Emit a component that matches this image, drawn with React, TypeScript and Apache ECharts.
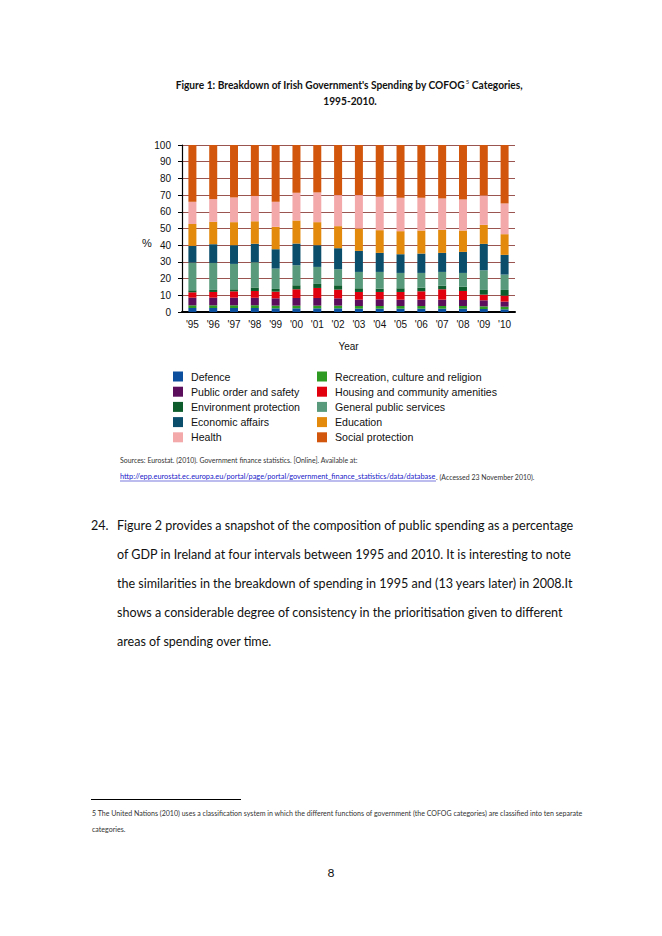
import React, { useEffect, useRef } from "react";
import * as echarts from "echarts";

// ---- Data (percent of total government spending) ----
const years = ["'95", "'96", "'97", "'98", "'99", "'00", "'01", "'02", "'03", "'04", "'05", "'06", "'07", "'08", "'09", "'10"];
const defence = [2.4, 2.4, 2.4, 2.4, 2.2, 2.2, 2.2, 2.2, 2.0, 2.0, 2.0, 2.0, 2.0, 2.0, 1.8, 1.6];
const recreation = [1.6, 1.6, 1.6, 1.6, 1.6, 1.6, 1.6, 1.6, 1.6, 1.6, 1.6, 1.6, 1.6, 1.6, 1.6, 1.6];
const publicOrder = [4.6, 4.6, 4.6, 4.6, 4.4, 4.6, 4.6, 4.4, 3.8, 4.0, 3.8, 3.8, 3.8, 3.6, 3.6, 3.0];
const housing = [3.2, 3.4, 3.8, 4.0, 4.0, 5.2, 6.0, 5.2, 4.6, 4.4, 4.6, 5.0, 6.2, 5.4, 3.4, 3.6];
const environment = [1.2, 1.2, 1.2, 2.0, 1.6, 2.4, 2.4, 2.6, 2.2, 2.0, 2.2, 2.2, 2.2, 2.6, 2.8, 3.4];
const generalPublic = [16.6, 16.2, 15.2, 15.2, 12.2, 12.0, 10.2, 9.6, 9.8, 10.0, 9.2, 8.8, 8.2, 8.2, 11.8, 9.2];
const economic = [10.0, 11.2, 11.2, 11.0, 11.6, 13.0, 13.0, 12.6, 12.6, 11.4, 11.2, 11.6, 11.4, 12.6, 15.8, 11.8];
const education = [13.1, 13.4, 13.8, 13.6, 13.4, 13.8, 13.8, 13.2, 13.4, 13.6, 13.8, 13.8, 13.8, 12.8, 11.4, 12.4];
const health = [13.3, 13.6, 14.8, 15.0, 15.0, 16.6, 17.8, 18.6, 20.0, 20.0, 20.0, 19.6, 18.8, 18.6, 17.6, 18.4];
const social = [34.0, 32.4, 31.4, 30.6, 34.0, 28.6, 28.4, 30.0, 30.0, 31.0, 31.6, 31.6, 32.0, 32.6, 30.2, 35.0];

const yTicks = { min: 0, max: 100, interval: 10 };

const seriesDefs = [
  { name: "Defence", data: defence, color: "#0b4f9e" },
  { name: "Recreation, culture and religion", data: recreation, color: "#2f9a22" },
  { name: "Public order and safety", data: publicOrder, color: "#5a0e5c" },
  { name: "Housing and community amenities", data: housing, color: "#e0000e" },
  { name: "Environment protection", data: environment, color: "#0c5c2c" },
  { name: "General public services", data: generalPublic, color: "#5a9a7c" },
  { name: "Economic affairs", data: economic, color: "#0a4e6c" },
  { name: "Education", data: education, color: "#e38a0c" },
  { name: "Health", data: health, color: "#f3a8aa" },
  { name: "Social protection", data: social, color: "#d2560c" },
];

const legendLeft = ["Defence", "Public order and safety", "Environment protection", "Economic affairs", "Health"];
const legendRight = ["Recreation, culture and religion", "Housing and community amenities", "General public services", "Education", "Social protection"];

const paragraphLines = [
  "Figure 2 provides a snapshot of the composition of public spending as a percentage",
  "of GDP in Ireland at four intervals between 1995 and 2010. It is interesting to note",
  "the similarities in the breakdown of spending in 1995 and (13 years later) in 2008.It",
  "shows a considerable degree of consistency in the prioritisation given to different",
  "areas of spending over time.",
];

const DOC_FONT = "Lato";

function makeMeasurer() {
  const c = document.createElement("canvas");
  const ctx = c.getContext("2d")!;
  return (text: string, font: string, target: number) => {
    ctx.font = font;
    const w = ctx.measureText(text).width;
    return w > 0 ? target / w : 1;
  };
}

export default function App() {
  const ref = useRef<HTMLDivElement>(null);

  useEffect(() => {
    if (!ref.current) return;
    const chart = echarts.init(ref.current, undefined, { renderer: "svg" });
    const fit = makeMeasurer();

    const titleFont = `bold 11px ${DOC_FONT}`;
    const titleScale = fit("Figure 1: Breakdown of Irish Government's Spending by COFOG Categories,", titleFont, 343);

    const paraFont = `12.5px ${DOC_FONT}`;
    const paraScale = fit(paragraphLines[0], paraFont, 457);

    const srcFont = `7px ${DOC_FONT}`;
    const srcScale = fit("Sources: Eurostat. (2010). Government finance statistics. [Online]. Available at:", srcFont, 238);
    const linkText = "http://epp.eurostat.ec.europa.eu/portal/page/portal/government_finance_statistics/data/database";
    const linkScale = fit(linkText, srcFont, 316);

    const fnText = "5 The United Nations (2010) uses a classification system in which the different functions of government (the COFOG categories) are classified into ten separate";
    const fnScale = fit(fnText, srcFont, 492);

    const docText = (text: string, x: number, y: number, size: number, scaleX: number, opts: any = {}) => ({
      type: "text",
      x,
      y,
      scaleX,
      style: {
        text,
        fontFamily: opts.family || DOC_FONT,
        fontSize: size,
        fontWeight: opts.bold ? "bold" : "normal",
        fill: opts.fill || "#111",
        textAlign: opts.align || "left",
        textVerticalAlign: "middle",
      },
    });

    const graphics: any[] = [
      // Title
      {
        type: "text",
        x: 349,
        y: 85,
        scaleX: titleScale,
        style: {
          text: "{t|Figure 1: Breakdown of Irish Government's Spending by COFOG}{s|5}{t| Categories,}",
          textAlign: "center",
          textVerticalAlign: "middle",
          rich: {
            t: { fontFamily: DOC_FONT, fontSize: 11, fontWeight: "bold", fill: "#111", lineHeight: 14 },
            s: { fontFamily: DOC_FONT, fontSize: 6.5, fill: "#111", lineHeight: 14, verticalAlign: "top", padding: [0, 0, 6, 1] },
          },
        },
      },
      docText("1995-2010.", 350, 101, 11, titleScale, { bold: true, align: "center" }),
      // Y axis unit label
      docText("%", 147, 243, 11, 1, { family: "Liberation Sans", align: "center" }),
      // Sources
      docText("Sources: Eurostat. (2010). Government finance statistics. [Online]. Available at:", 120, 460, 7, srcScale, { fill: "#333" }),
      docText(linkText, 120, 477, 7, linkScale, { fill: "#2020c8" }),
      { type: "line", shape: { x1: 120, y1: 481, x2: 436, y2: 481 }, style: { stroke: "#2020c8", lineWidth: 0.6 } },
      docText(". (Accessed 23 November 2010).", 436, 477, 7, srcScale, { fill: "#333" }),
      // Paragraph
      docText("24.", 91, 526, 12.5, paraScale),
      ...paragraphLines.map((l, i) => docText(l, 117, 526 + i * 29, 12.5, paraScale)),
      // Footnote
      { type: "line", shape: { x1: 91, y1: 799.5, x2: 241, y2: 799.5 }, style: { stroke: "#000", lineWidth: 1 } },
      docText(fnText, 92, 813, 7, fnScale, { fill: "#333" }),
      docText("categories.", 92, 829, 7, fnScale, { fill: "#333" }),
      // Page number
      docText("8", 331, 872, 12, 1, { align: "center" }),
    ];

    const legendCommon = {
      orient: "vertical",
      top: 371,
      itemWidth: 10,
      itemHeight: 10,
      itemGap: 4.2,
      icon: "rect",
      selectedMode: false,
      padding: 0,
      textStyle: { fontFamily: "Liberation Sans", fontSize: 10.6, color: "#111", padding: [0, 0, 0, 3] },
    };

    chart.setOption({
      animation: false,
      backgroundColor: "#fff",
      textStyle: { fontFamily: "Liberation Sans" },
      grid: { left: 182, top: 145, width: 333, height: 167, containLabel: false },
      legend: [
        { ...legendCommon, left: 173, data: legendLeft },
        { ...legendCommon, left: 317, data: legendRight },
      ],
      xAxis: {
        type: "category",
        data: years,
        axisLine: { show: true, lineStyle: { color: "#000", width: 2 } },
        axisTick: { show: false },
        axisLabel: { fontSize: 10, color: "#111", margin: 7, interval: 0 },
        splitLine: { show: false },
        name: "Year",
        nameLocation: "middle",
        nameGap: 29,
        nameTextStyle: { fontSize: 10, color: "#111" },
      },
      yAxis: {
        type: "value",
        min: yTicks.min,
        max: yTicks.max,
        interval: yTicks.interval,
        axisLine: { show: true, lineStyle: { color: "#000", width: 1.2 } },
        axisTick: { show: true, length: 4, lineStyle: { color: "#000" } },
        axisLabel: { fontSize: 10, color: "#111", margin: 11 },
        splitLine: { show: true, lineStyle: { color: "#9a5550", width: 1 } },
      },
      series: seriesDefs.map((s) => ({
        name: s.name,
        type: "bar",
        stack: "total",
        barWidth: 8,
        data: s.data,
        itemStyle: { color: s.color },
        emphasis: { disabled: true },
      })),
      graphic: graphics,
    });

    return () => chart.dispose();
  }, []);

  return <div ref={ref} style={{ position: "fixed", left: 0, top: 0, width: 662, height: 936, background: "#fff" }} />;
}
